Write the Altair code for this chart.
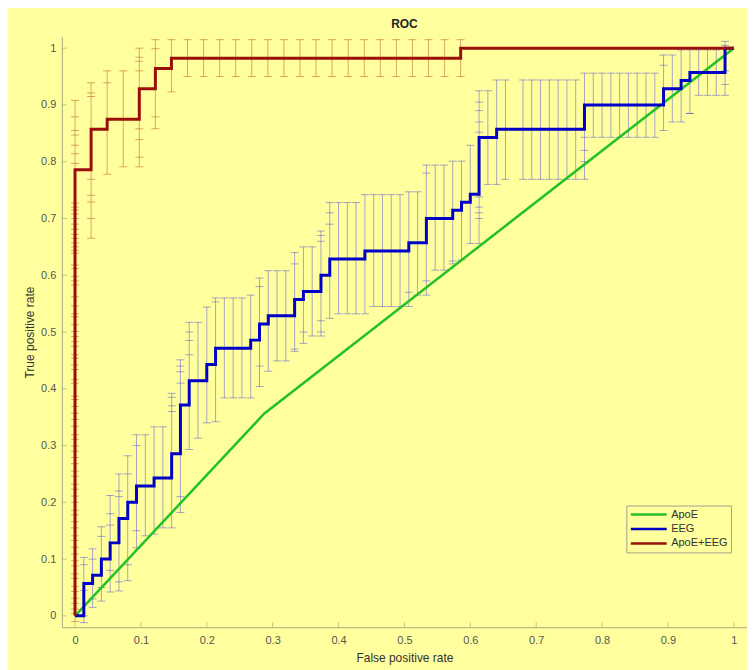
import altair as alt
import pandas as pd

# ---------------- data ----------------
series_names = ["ApoE", "EEG", "ApoE+EEG"]
series_colors = ["#22C322", "#0000C8", "#9B0F0A"]

# ApoE (green) ROC
apoe_fpr = [0.0, 0.287, 1.0]
apoe_tpr = [0.0, 0.356, 1.0]

# EEG (blue) staircase: FPR as count of 75 negatives, TPR as count of 70 positives
EEG_NEG = 75
EEG_POS = 70
eeg_fpr_k = [0, 1, 2, 3, 4, 5, 6, 7, 9, 11, 12, 13, 15, 16, 20, 21, 22, 25, 26, 28,
             29, 33, 38, 40, 43, 44, 45, 46, 48, 58, 67, 69, 70, 74, 75]
eeg_tpr_n = [0, 4, 5, 7, 9, 12, 14, 16, 17, 20, 26, 29, 31, 33, 34, 36, 37, 39, 40, 42,
             44, 45, 46, 49, 50, 51, 52, 59, 60, 63, 65, 66, 67, 70, 70]

# ApoE+EEG (dark red) staircase: FPR count of 41, TPR count of 56
COMB_NEG = 41
COMB_POS = 56
comb_fpr_k = [0, 0, 1, 2, 4, 5, 6, 24, 41]
comb_tpr_n = [0, 44, 48, 49, 52, 54, 55, 56, 56]

# EEG confidence bars (vertical), at FPR index k
eeg_bar_k = [1, 2, 3, 4, 5, 6, 7, 8, 9, 10, 11, 12, 13, 14, 15, 16, 17, 18, 19, 20,
             21, 22, 23, 24, 25, 26, 27, 28, 29, 30, 31, 32, 33, 34, 35, 36, 37, 38, 39, 40,
             41, 42, 43, 44, 45, 46, 47, 48, 49, 51, 52, 53, 54, 55, 56, 57, 58, 59, 60, 61,
             62, 63, 64, 65, 66, 67, 68, 69, 70, 71, 72, 73, 74]
eeg_bar_lo = [-0.012, 0.015, 0.026, 0.042, 0.044, 0.062, 0.12, 0.141, 0.144, 0.155,
              0.155, 0.182, 0.293, 0.313, 0.34, 0.342, 0.384, 0.384, 0.384, 0.384,
              0.404, 0.431, 0.449, 0.449, 0.466, 0.48, 0.493, 0.493, 0.524, 0.532,
              0.532, 0.532, 0.532, 0.545, 0.545, 0.545, 0.545, 0.545, 0.565, 0.565,
              0.609, 0.609, 0.62, 0.627, 0.656, 0.656, 0.76, 0.76, 0.769,
              0.769, 0.769, 0.769, 0.769, 0.769, 0.769, 0.769, 0.769,
              0.843, 0.843, 0.843, 0.843, 0.843, 0.843, 0.843, 0.843,
              0.855, 0.87, 0.87, 0.885, 0.917, 0.917, 0.917, 0.917]
eeg_bar_hi = [0.103, 0.118, 0.157, 0.212, 0.25, 0.282, 0.319, 0.319, 0.333, 0.333,
              0.392, 0.451, 0.517, 0.517, 0.544, 0.56, 0.56, 0.56, 0.56, 0.565,
              0.595, 0.608, 0.608, 0.608, 0.64, 0.65, 0.65, 0.678, 0.728, 0.728,
              0.728, 0.728, 0.742, 0.742, 0.742, 0.742, 0.742, 0.747, 0.747, 0.794,
              0.794, 0.794, 0.801, 0.801, 0.829, 0.925, 0.925, 0.944, 0.944,
              0.944, 0.944, 0.944, 0.944, 0.944, 0.944, 0.944, 0.956,
              0.956, 0.956, 0.956, 0.956, 0.956, 0.956, 0.956, 0.956,
              0.988, 0.988, 0.997, 0.997, 0.997, 0.997, 0.997, 1.012]
# inner caps of overlapping EEG bars
eeg_tick_k = [1, 1, 1, 2, 2, 3, 3, 4, 4, 4, 5, 5, 5, 6, 6, 7, 7, 11, 11, 11,
              12, 12, 12, 12, 13, 13, 13, 16, 21, 21, 25, 25, 26, 28, 28, 28, 28, 29, 29, 38,
              40, 40, 43, 46, 46, 46, 46, 46, 46, 46, 46, 58, 58, 58, 67, 70, 74, 74, 74]
eeg_tick_y = [0.09, 0.045, 0.0, 0.1, 0.03, 0.14, 0.05, 0.18, 0.16, 0.08, 0.22, 0.21, 0.06,
              0.25, 0.09, 0.3, 0.15, 0.385, 0.37, 0.36, 0.44, 0.43, 0.41, 0.21, 0.5, 0.485,
              0.46, 0.553, 0.58, 0.44, 0.62, 0.47, 0.5, 0.67, 0.66, 0.52, 0.5, 0.71, 0.69,
              0.57, 0.78, 0.59, 0.625, 0.905, 0.89, 0.87, 0.852, 0.738, 0.72, 0.71, 0.70,
              0.843, 0.82, 0.80, 0.97, 0.885, 1.005, 0.96, 0.936]

# ApoE+EEG confidence bars
comb_bar_k = [0, 1, 2, 3, 4, 5, 6, 7, 8, 9, 10, 11, 12, 13, 14, 15, 16, 17, 18, 19,
              20, 21, 22, 23, 24]
comb_bar_lo = [-0.01, 0.665, 0.778, 0.791, 0.791, 0.858, 0.923, 0.95, 0.95, 0.95,
               0.95, 0.95, 0.95, 0.95, 0.95, 0.95, 0.95, 0.95, 0.95, 0.95,
               0.95, 0.95, 0.95, 0.95, 0.95]
comb_bar_hi = [0.908, 0.939, 0.96, 0.96, 1.0, 1.015, 1.015, 1.015, 1.015, 1.015,
               1.015, 1.015, 1.015, 1.015, 1.015, 1.015, 1.015, 1.015, 1.015, 1.015,
               1.015, 1.015, 1.015, 1.015, 1.015]
comb_tick_k = [1, 1, 1, 1, 1, 1, 2, 4, 4, 4, 4, 4, 4, 5, 5]
comb_tick_y = [0.921, 0.915, 0.769, 0.741, 0.729, 0.7, 0.939, 0.984, 0.977, 0.96,
               0.858, 0.839, 0.808, 0.999, 0.879]
# many overlapping caps in the column at FPR = 0
comb_zero_ticks = [0.004, 0.012, 0.022, 0.031, 0.043, 0.052, 0.066, 0.074, 0.088, 0.097,
                   0.109, 0.121, 0.133, 0.141, 0.155, 0.166, 0.178, 0.186, 0.2, 0.211,
                   0.223, 0.232, 0.246, 0.255, 0.268, 0.279, 0.29, 0.299, 0.311, 0.319,
                   0.334, 0.346, 0.357, 0.369, 0.381, 0.387, 0.41, 0.416, 0.434, 0.442,
                   0.454, 0.46, 0.475, 0.483, 0.492, 0.501, 0.513, 0.527, 0.532, 0.546,
                   0.562, 0.583, 0.59, 0.598, 0.612, 0.618, 0.639, 0.644, 0.65, 0.657,
                   0.665, 0.672, 0.681, 0.69, 0.7, 0.708, 0.715, 0.72, 0.727, 0.797,
                   0.814, 0.829, 0.847, 0.855, 0.879]

tick_values = [0, 0.1, 0.2, 0.3, 0.4, 0.5, 0.6, 0.7, 0.8, 0.9, 1]

# ---------------- tables ----------------
rows = []
for i, (x, y) in enumerate(zip(apoe_fpr, apoe_tpr)):
    rows.append({"series": "ApoE", "fpr": x, "tpr": y, "i": i})
green_df = pd.DataFrame(rows)

rows = []
for i, (k, n) in enumerate(zip(eeg_fpr_k, eeg_tpr_n)):
    rows.append({"series": "EEG", "fpr": k / EEG_NEG, "tpr": n / EEG_POS, "i": i})
for i, (k, n) in enumerate(zip(comb_fpr_k, comb_tpr_n)):
    rows.append({"series": "ApoE+EEG", "fpr": k / COMB_NEG, "tpr": n / COMB_POS, "i": i})
step_df = pd.DataFrame(rows)

eeg_bars = pd.DataFrame({"fpr": [k / EEG_NEG for k in eeg_bar_k],
                         "lo": eeg_bar_lo, "hi": eeg_bar_hi})
eeg_caps = pd.DataFrame({
    "fpr": [k / EEG_NEG for k in eeg_bar_k] * 2 + [k / EEG_NEG for k in eeg_tick_k],
    "tpr": eeg_bar_lo + eeg_bar_hi + eeg_tick_y})

comb_bars = pd.DataFrame({"fpr": [k / COMB_NEG for k in comb_bar_k],
                          "lo": comb_bar_lo, "hi": comb_bar_hi})
comb_caps = pd.DataFrame({
    "fpr": [k / COMB_NEG for k in comb_bar_k] * 2 + [k / COMB_NEG for k in comb_tick_k]
           + [0.0] * len(comb_zero_ticks),
    "tpr": comb_bar_lo + comb_bar_hi + comb_tick_y + comb_zero_ticks})

xtick_df = pd.DataFrame({"fpr": tick_values, "tpr": [-0.02] * len(tick_values)})
ytick_df = pd.DataFrame({"fpr": [-0.02] * len(tick_values), "tpr": tick_values})

# ---------------- encodings ----------------
FONT = "Liberation Sans"
AXIS_COL = "#A9A97A"
BG = "#FFFF9E"

xscale = alt.Scale(domain=[-0.02, 1.02], nice=False, zero=False)
yscale = alt.Scale(domain=[-0.02, 1.02], nice=False, zero=False)
xaxis = alt.Axis(values=tick_values, format="~g", ticks=False, grid=False,
                 domainColor=AXIS_COL, labelColor="#555555", labelFontSize=11,
                 labelFont=FONT, labelPadding=7, title="False positive rate",
                 titleFont=FONT, titleFontSize=12, titleFontWeight="normal",
                 titleColor="#333333", titlePadding=7)
yaxis = alt.Axis(values=tick_values, format="~g", ticks=False, grid=False,
                 domainColor=AXIS_COL, labelColor="#555555", labelFontSize=11,
                 labelFont=FONT, labelPadding=6, title="True positive rate",
                 titleFont=FONT, titleFontSize=12, titleFontWeight="normal",
                 titleColor="#333333", titlePadding=4)

X = alt.X("fpr:Q", scale=xscale, axis=xaxis)
Y = alt.Y("tpr:Q", scale=yscale, axis=yaxis)
color_scale = alt.Scale(domain=series_names, range=series_colors)
legend = alt.Legend(title=None, orient="none", legendX=566, legendY=470,
                    symbolType="stroke", symbolSize=1296, symbolStrokeWidth=2.5,
                    clipHeight=12, rowPadding=2.5, padding=3, labelOffset=3,
                    labelFont=FONT, labelFontSize=11, labelColor="#333333",
                    strokeColor="#A0A090", fillColor=BG)
C = alt.Color("series:N", scale=color_scale, legend=legend, sort=series_names)

eeg_bar_layer = alt.Chart(eeg_bars).mark_rule(color="#4646DC", opacity=0.48, strokeWidth=1).encode(
    x=X, y=alt.Y("lo:Q", scale=yscale, axis=yaxis), y2="hi:Q")
eeg_cap_layer = alt.Chart(eeg_caps).mark_tick(orient="horizontal", size=8, thickness=1,
                                              color="#4646DC", opacity=0.48).encode(x=X, y=Y)
comb_bar_layer = alt.Chart(comb_bars).mark_rule(color="#B4502A", opacity=0.5, strokeWidth=1).encode(
    x=X, y=alt.Y("lo:Q", scale=yscale, axis=yaxis), y2="hi:Q")
comb_cap_layer = alt.Chart(comb_caps).mark_tick(orient="horizontal", size=8, thickness=1,
                                                color="#B4502A", opacity=0.5).encode(x=X, y=Y)

green_layer = alt.Chart(green_df).mark_line(strokeWidth=2.5).encode(
    x=X, y=Y, color=C, order="i:Q")
step_layer = alt.Chart(step_df).mark_line(strokeWidth=3, interpolate="step-after").encode(
    x=X, y=Y, color=C, order="i:Q")

xtick_layer = alt.Chart(xtick_df).mark_tick(orient="vertical", size=5, thickness=1,
                                            yOffset=-2.5, color=AXIS_COL).encode(x=X, y=Y)
ytick_layer = alt.Chart(ytick_df).mark_tick(orient="horizontal", size=5, thickness=1,
                                            xOffset=2.5, color=AXIS_COL).encode(x=X, y=Y)

chart = alt.layer(
    eeg_bar_layer, eeg_cap_layer, comb_bar_layer, comb_cap_layer,
    green_layer, step_layer, xtick_layer, ytick_layer
).properties(
    width=687, height=592,
    title=alt.TitleParams("ROC", font=FONT, fontSize=12, fontWeight="bold",
                          color="#222222", offset=6, anchor="middle"),
    padding={"left": 54, "top": 28, "right": 0, "bottom": 42},
    autosize=alt.AutoSizeParams(type="none"),
    background=BG,
).configure_view(stroke=None)

chart.save("out.html", embed_options={"renderer": "svg", "actions": False})
